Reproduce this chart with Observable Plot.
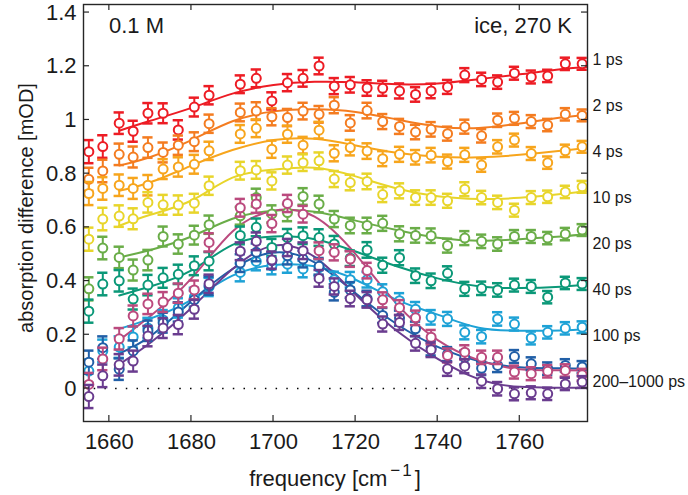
<!DOCTYPE html>
<html><head><meta charset="utf-8">
<script src="https://cdn.jsdelivr.net/npm/d3@7"></script>
<script src="https://cdn.jsdelivr.net/npm/@observablehq/plot@0.6"></script>
<style>body{margin:0;background:#fff} svg{display:block}</style>
</head><body><div id="chart"></div>
<script>
// ---- data ----
const freq = [1655.0, 1658.4, 1662.4, 1665.8, 1669.4, 1673.1, 1676.8, 1680.7, 1684.3, 1691.9, 1695.8, 1699.6, 1703.4, 1707.2, 1711.1, 1714.8, 1718.7, 1722.8, 1726.6, 1730.7, 1734.6, 1738.4, 1742.4, 1746.6, 1750.7, 1754.6, 1758.7, 1762.8, 1766.8, 1771.1, 1775.2];
const err = [0.043, 0.042, 0.040, 0.039, 0.038, 0.037, 0.036, 0.035, 0.034, 0.033, 0.033, 0.032, 0.032, 0.031, 0.031, 0.030, 0.029, 0.029, 0.028, 0.028, 0.027, 0.027, 0.026, 0.026, 0.025, 0.025, 0.024, 0.024, 0.023, 0.023, 0.022];

const v1ps   = [0.882,0.901,0.988,0.958,1.025,1.025,0.963,1.048,1.092,1.133,1.155,1.071,1.139,1.155,1.201,1.126,1.131,1.119,1.118,1.108,1.095,1.108,1.123,1.167,1.151,1.141,1.174,1.160,1.164,1.209,1.209];
const v2ps   = [0.779,0.810,0.872,0.862,0.897,0.879,0.906,0.919,0.986,1.028,1.033,1.012,1.009,1.033,1.021,1.055,0.989,1.035,0.994,0.976,0.955,0.965,0.949,0.975,0.941,0.999,1.006,0.994,0.981,1.021,1.017];
const v4ps   = [0.726,0.745,0.757,0.745,0.757,0.817,0.825,0.835,0.885,0.948,0.969,0.891,0.947,0.906,0.962,0.876,0.897,0.884,0.856,0.872,0.861,0.869,0.845,0.870,0.832,0.900,0.925,0.875,0.841,0.885,0.900];
const v10ps  = [0.556,0.631,0.642,0.632,0.693,0.684,0.683,0.690,0.755,0.811,0.814,0.773,0.832,0.841,0.848,0.780,0.767,0.771,0.722,0.736,0.711,0.711,0.699,0.742,0.711,0.693,0.664,0.711,0.714,0.732,0.751];
const v20ps  = [0.371,0.523,0.488,0.441,0.478,0.566,0.538,0.571,0.610,0.643,0.711,0.650,0.655,0.715,0.687,0.631,0.607,0.607,0.615,0.576,0.570,0.569,0.532,0.560,0.548,0.538,0.566,0.566,0.560,0.575,0.590];
const v40ps  = [0.288,0.389,0.401,0.333,0.385,0.412,0.425,0.457,0.474,0.570,0.600,0.525,0.562,0.569,0.562,0.538,0.485,0.516,0.459,0.487,0.420,0.401,0.429,0.371,0.373,0.367,0.385,0.380,0.340,0.393,0.389];
const v100ps = [0.065,0.140,0.154,0.192,0.225,0.255,0.300,0.340,0.378,0.432,0.473,0.457,0.463,0.445,0.450,0.405,0.405,0.405,0.360,0.327,0.295,0.265,0.259,0.209,0.193,0.259,0.240,0.188,0.209,0.224,0.228];
const v200ps = [0.098,0.152,0.072,0.140,0.215,0.245,0.285,0.330,0.383,0.467,0.507,0.476,0.494,0.482,0.455,0.358,0.367,0.335,0.272,0.262,0.222,0.150,0.128,0.115,0.075,0.086,0.119,0.092,0.074,0.086,0.080];
const v500ps = [0.015,0.110,0.185,0.270,0.315,0.322,0.355,0.367,0.544,0.673,0.687,0.614,0.689,0.649,0.513,0.507,0.482,0.439,0.330,0.301,0.263,0.191,0.123,0.135,0.116,0.116,0.061,0.055,0.064,0.067,0.051];
const v1000ps= [-0.030,0.047,0.088,0.102,0.195,0.225,0.238,0.295,0.390,0.511,0.548,0.478,0.525,0.513,0.410,0.380,0.335,0.330,0.240,0.246,0.168,0.144,0.073,0.083,0.027,-0.001,-0.020,-0.016,-0.020,0.017,0.024];

// fitted curves (read at these frequencies)
const fitFreq = [1662.4, 1670, 1680, 1690, 1700, 1710, 1720, 1730, 1740, 1750, 1760, 1770, 1776.5];
const f1ps   = [0.960,0.997,1.045,1.098,1.130,1.142,1.140,1.133,1.136,1.152,1.170,1.189,1.197];
const f2ps   = [0.830,0.862,0.925,0.995,1.032,1.040,1.030,1.002,0.976,0.970,0.987,1.009,1.019];
const f4ps   = [0.736,0.768,0.830,0.888,0.925,0.930,0.905,0.878,0.863,0.861,0.870,0.885,0.897];
const f10ps  = [0.606,0.647,0.700,0.785,0.815,0.822,0.790,0.745,0.716,0.706,0.710,0.724,0.736];
const f20ps  = [0.488,0.516,0.566,0.632,0.662,0.658,0.625,0.590,0.561,0.550,0.556,0.566,0.575];
const f40ps  = [0.346,0.380,0.440,0.535,0.566,0.556,0.510,0.455,0.410,0.381,0.374,0.379,0.387];
const f100ps = [0.222,0.260,0.330,0.420,0.460,0.455,0.405,0.330,0.275,0.226,0.215,0.216,0.222];
const f200ps = [0.130,0.195,0.325,0.445,0.506,0.470,0.355,0.240,0.155,0.102,0.079,0.075,0.073];
const f500ps = [0.180,0.270,0.410,0.585,0.662,0.640,0.500,0.315,0.180,0.105,0.072,0.068,0.067];
const f1000ps= [0.090,0.170,0.300,0.445,0.532,0.490,0.350,0.215,0.110,0.035,0.006,0.003,0.003];

const seriesColors = ["#ed1c24","#f47c20","#f7a51c","#e8d52b","#6aad48","#0b9878","#1ea2d6","#215fa7","#bb4a7e","#6a3c8f"];
const rightLabels = ["1 ps","2 ps","4 ps","10 ps","20 ps","40 ps","100 ps","200\u20131000 ps"];
const xTicks = [1660, 1680, 1700, 1720, 1740, 1760];
const yTicks = [0, 0.2, 0.4, 0.6, 0.8, 1, 1.2, 1.4];

// ---- build ----
const values = [v1ps, v2ps, v4ps, v10ps, v20ps, v40ps, v100ps, v200ps, v500ps, v1000ps];
const fits = [f1ps, f2ps, f4ps, f10ps, f20ps, f40ps, f100ps, f200ps, f500ps, f1000ps];
const capHalf = 1.25; // cm^-1, cap half width
const W = 688, H = 495, mL = 83, mR = 101, mT = 4, mB = 74;

const marks = [Plot.ruleY([0], {stroke: "#000", strokeWidth: 1.5, strokeDasharray: "1.5,9.2", clip: true})];
fits.forEach((fv, s) => {
  const rows = fitFreq.map((f, i) => ({f, v: fv[i]}));
  marks.push(Plot.line(rows, {x: "f", y: "v", stroke: seriesColors[s], strokeWidth: 2, curve: "natural", clip: true}));
});
values.forEach((vals, s) => {
  const c = seriesColors[s];
  const pts = freq.map((f, i) => ({f, v: vals[i], e: err[i]}));
  marks.push(
    Plot.ruleX(pts, {x: "f", y1: d => d.v - d.e, y2: d => d.v + d.e, stroke: c, strokeWidth: 2}),
    Plot.ruleY(pts, {y: d => d.v + d.e, x1: d => d.f - capHalf, x2: d => d.f + capHalf, stroke: c, strokeWidth: 2.5}),
    Plot.ruleY(pts, {y: d => d.v - d.e, x1: d => d.f - capHalf, x2: d => d.f + capHalf, stroke: c, strokeWidth: 2.5}),
    Plot.dot(pts, {x: "f", y: "v", r: 4.5, stroke: c, strokeWidth: 2, fill: "white"})
  );
});
rightLabels.forEach((t, i) => {
  marks.push(Plot.text([t], {text: d => d, frameAnchor: "top-right", textAnchor: "start", lineAnchor: "middle", dx: 5, dy: 55 + i * 46, fontSize: 16, fill: "#1a1a1a"}));
});
marks.push(
  Plot.frame({stroke: "#262626", strokeWidth: 1.4}),
  Plot.axisX({ticks: xTicks, tickSize: 0, tickPadding: 12, label: null, tickFormat: d => String(d)}),
  Plot.axisY({ticks: yTicks, tickSize: 0, tickPadding: 7, label: null, tickFormat: d3.format("~g")})
);

const plot = Plot.plot({
  width: W, height: H,
  marginLeft: mL, marginRight: mR, marginTop: mT, marginBottom: mB,
  x: {domain: [1653.7, 1776.5]},
  y: {domain: [-0.123, 1.43]},
  style: {fontFamily: "'Liberation Sans', Arial, Helvetica, sans-serif", fontSize: "22px", color: "#1a1a1a", background: "white"},
  marks
});
document.getElementById("chart").appendChild(plot);

// inward ticks on all four sides, placed with the plot's own scales
const sx = plot.scale("x"), sy = plot.scale("y");
const svg = d3.select(plot);
const g = svg.append("g").attr("stroke", "#262626").attr("stroke-width", 1.2);
const fTop = mT, fBottom = H - mB, fLeft = mL, fRight = W - mR, tl = 6;
xTicks.forEach(t => {
  const x = sx.apply(t);
  g.append("line").attr("x1", x).attr("x2", x).attr("y1", fBottom).attr("y2", fBottom - tl);
  g.append("line").attr("x1", x).attr("x2", x).attr("y1", fTop).attr("y2", fTop + tl);
});
yTicks.forEach(t => {
  const y = sy.apply(t);
  g.append("line").attr("y1", y).attr("y2", y).attr("x1", fLeft).attr("x2", fLeft + tl);
  g.append("line").attr("y1", y).attr("y2", y).attr("x1", fRight).attr("x2", fRight - tl);
});

const txt = svg.append("g").attr("fill", "#1a1a1a").attr("font-size", 22);
txt.append("text").attr("x", 109).attr("y", 33).attr("text-anchor", "start").text("0.1 M");
txt.append("text").attr("x", 572).attr("y", 33).attr("text-anchor", "end").text("ice, 270 K");
txt.append("text").attr("transform", "translate(33,208) rotate(-90)").attr("text-anchor", "middle").attr("font-size", 20).text("absorption difference [mOD]");
const xl = txt.append("text").attr("x", 335).attr("y", 486).attr("text-anchor", "middle");
xl.append("tspan").text("frequency [cm");
xl.append("tspan").attr("dx", 3).attr("dy", -10).attr("font-size", 17).attr("letter-spacing", 2).text("\u22121");
xl.append("tspan").attr("dx", 1).attr("dy", 10).text("]");
</script>
</body></html>
